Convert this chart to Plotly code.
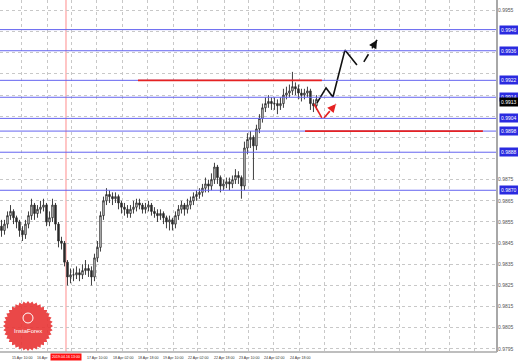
import math
import plotly.graph_objects as go

# ---------------- data ----------------
bar_index = list(range(106))
opens = [0.9853,0.9851,0.9854,0.9858,0.9860,0.9857,0.9855,0.9851,0.9849,0.9854,
         0.9858,0.9863,0.9859,0.9861,0.9862,0.9863,0.9855,0.9857,0.9863,0.9854,
         0.9846,0.9845,0.9836,0.9829,0.9830,0.9830,0.9831,0.9830,0.9832,0.9833,
         0.9832,0.9829,0.9838,0.9843,0.9858,0.9865,0.9868,0.9867,0.9866,0.9867,
         0.9864,0.9862,0.9861,0.9859,0.9861,0.9862,0.9864,0.9863,0.9861,0.9862,
         0.9863,0.9860,0.9859,0.9858,0.9859,0.9857,0.9855,0.9856,0.9854,0.9858,
         0.9861,0.9863,0.9861,0.9863,0.9865,0.9867,0.9868,0.9869,0.9871,0.9873,
         0.9872,0.9875,0.9881,0.9876,0.9872,0.9873,0.9874,0.9873,0.9875,0.9877,
         0.9876,0.9872,0.9890,0.9894,0.9895,0.9891,0.9899,0.9904,0.9909,0.9911,
         0.9912,0.9911,0.9911,0.9910,0.9911,0.9915,0.9916,0.9917,0.9919,0.9918,
         0.9916,0.9915,0.9916,0.9917,0.9911,0.9910]
highs = [0.9856,0.9856,0.9860,0.9863,0.9861,0.9858,0.9856,0.9853,0.9856,0.9860,
         0.9866,0.9864,0.9863,0.9865,0.9866,0.9864,0.9860,0.9866,0.9864,0.9855,
         0.9848,0.9846,0.9837,0.9833,0.9833,0.9834,0.9833,0.9835,0.9837,0.9835,
         0.9834,0.9840,0.9846,0.9860,0.9867,0.9871,0.9870,0.9869,0.9869,0.9868,
         0.9865,0.9864,0.9863,0.9863,0.9865,0.9866,0.9866,0.9864,0.9864,0.9865,
         0.9864,0.9862,0.9861,0.9861,0.9860,0.9858,0.9858,0.9857,0.9860,0.9863,
         0.9865,0.9864,0.9866,0.9867,0.9869,0.9870,0.9871,0.9873,0.9876,0.9875,
         0.9878,0.9883,0.9882,0.9877,0.9875,0.9876,0.9876,0.9877,0.9880,0.9879,
         0.9877,0.9893,0.9897,0.9898,0.9896,0.9901,0.9906,0.9911,0.9914,0.9915,
         0.9914,0.9914,0.9913,0.9914,0.9918,0.9919,0.9920,0.9926,0.9921,0.9920,
         0.9918,0.9918,0.9919,0.9918,0.9913,0.9915]
lows = [0.9848,0.9849,0.9852,0.9856,0.9854,0.9852,0.9848,0.9846,0.9847,0.9852,
        0.9856,0.9856,0.9857,0.9859,0.9860,0.9853,0.9853,0.9855,0.9851,0.9843,
        0.9842,0.9834,0.9825,0.9826,0.9827,0.9828,0.9827,0.9828,0.9830,0.9829,
        0.9825,0.9827,0.9836,0.9841,0.9856,0.9863,0.9864,0.9863,0.9864,0.9861,
        0.9859,0.9858,0.9857,0.9857,0.9859,0.9860,0.9861,0.9859,0.9859,0.9860,
        0.9858,0.9857,0.9855,0.9856,0.9854,0.9852,0.9851,0.9851,0.9852,0.9856,
        0.9859,0.9858,0.9859,0.9861,0.9863,0.9865,0.9866,0.9867,0.9869,0.9869,
        0.9870,0.9873,0.9873,0.9869,0.9870,0.9871,0.9870,0.9871,0.9873,0.9873,
        0.9866,0.9870,0.9887,0.9890,0.9875,0.9889,0.9897,0.9902,0.9907,0.9909,
        0.9908,0.9908,0.9906,0.9908,0.9909,0.9913,0.9914,0.9915,0.9915,0.9913,
        0.9912,0.9913,0.9914,0.9908,0.9907,0.9908]
closes = [0.9851,0.9854,0.9858,0.9860,0.9857,0.9855,0.9851,0.9849,0.9854,0.9858,
          0.9863,0.9859,0.9861,0.9862,0.9863,0.9855,0.9857,0.9863,0.9854,0.9846,
          0.9845,0.9836,0.9829,0.9830,0.9830,0.9831,0.9830,0.9832,0.9833,0.9832,
          0.9829,0.9838,0.9843,0.9858,0.9865,0.9868,0.9867,0.9866,0.9867,0.9864,
          0.9862,0.9861,0.9859,0.9861,0.9862,0.9864,0.9863,0.9861,0.9862,0.9863,
          0.9860,0.9859,0.9858,0.9859,0.9857,0.9855,0.9856,0.9854,0.9858,0.9861,
          0.9863,0.9861,0.9863,0.9865,0.9867,0.9868,0.9869,0.9871,0.9873,0.9872,
          0.9875,0.9881,0.9876,0.9872,0.9873,0.9874,0.9873,0.9875,0.9877,0.9876,
          0.9872,0.9890,0.9894,0.9895,0.9891,0.9899,0.9904,0.9909,0.9911,0.9912,
          0.9911,0.9911,0.9910,0.9911,0.9915,0.9916,0.9917,0.9919,0.9918,0.9916,
          0.9915,0.9916,0.9917,0.9911,0.9910,0.9913]

level_prices = [0.9946, 0.9936, 0.9922, 0.9914, 0.9904, 0.9898, 0.9888, 0.9870]
current_price = 0.9913

red_upper = {"x": [45.5, 106.8], "price": 0.9922}
red_lower = {"x": [101.2, 160.5], "price": 0.9898}

black_path_x = [105.2, 108.2, 110.5, 114.5, 118.5]
black_path_p = [0.99113, 0.99184, 0.99141, 0.99363, 0.99293]
black_dash_x = [120.8, 125.2]
black_dash_p = [0.99307, 0.99411]

red_path_x = [104.2, 106.8]
red_path_p = [0.99108, 0.99042]
red_dash_x = [107.5, 111.5]
red_dash_p = [0.99042, 0.99108]

vline_index = 21.5
vline_label = "2019.04.16 13:00"

time_tick_idx = [-1.5, 6.8, 13.6, 23.5, 31.8, 40.5, 48.8, 57.2, 65.5, 74.2, 82.5, 90.8, 99.5,
                 107.8, 116.2, 124.5, 132.8, 141.2, 149.5, 157.8]
time_tick_txt = ["12 Apr 18:00", "15 Apr 10:00", "16 Apr", "", "17 Apr 10:00",
                 "18 Apr 02:00", "18 Apr 18:00", "19 Apr 10:00", "22 Apr 02:00",
                 "22 Apr 18:00", "23 Apr 10:00", "24 Apr 02:00", "24 Apr 18:00",
                 "", "", "", "", "", "", ""]

price_ticks = [0.9795, 0.9805, 0.9815, 0.9825, 0.9835, 0.9845, 0.9855, 0.9865, 0.9875,
               0.9885, 0.9895, 0.9905, 0.9915, 0.9925, 0.9935, 0.9945, 0.9955]

# ---------------- figure ----------------
W, H = 518, 363
ML, MR, MT, MB = 0, 21, 0, 11
Y_RANGE = [0.97935, 0.9960]
X_RANGE = [-0.5, 165.2]
FONT = "Liberation Sans"

fig = go.Figure()

fig.add_trace(go.Candlestick(
    x=bar_index, open=opens, high=highs, low=lows, close=closes,
    increasing=dict(line=dict(color="#2a2a2a", width=0.9), fillcolor="#ffffff"),
    decreasing=dict(line=dict(color="#2a2a2a", width=0.9), fillcolor="#2a2a2a"),
    whiskerwidth=0, showlegend=False, hoverinfo="skip"))

shapes = []
shapes.append(dict(type="line", xref="x", yref="paper", x0=vline_index, x1=vline_index,
                   y0=0, y1=1, line=dict(color="#ff8c8c", width=1), layer="below"))
for p in level_prices:
    shapes.append(dict(type="line", xref="paper", yref="y", x0=0, x1=1, y0=p, y1=p,
                       line=dict(color="#6464f0", width=1)))
for seg in (red_upper, red_lower):
    shapes.append(dict(type="line", xref="x", yref="y", x0=seg["x"][0], x1=seg["x"][1],
                       y0=seg["price"], y1=seg["price"], line=dict(color="#e52222", width=1.6)))
shapes.append(dict(type="line", xref="paper", yref="paper", x0=1, x1=1, y0=0, y1=1,
                   line=dict(color="#a8a8a8", width=2)))
shapes.append(dict(type="line", xref="paper", yref="paper", x0=0, x1=1, y0=0, y1=0,
                   line=dict(color="#a8a8a8", width=1.5)))

# InstaForex badge (decoration)
pw, ph = W - ML - MR, H - MT - MB
cx, cy, r_out, r_in, teeth = 28, 326, 25, 22.5, 36
pts = []
for k in range(teeth * 2):
    a = math.pi * k / teeth
    rr = r_out if k % 2 == 0 else r_in
    pts.append(((cx + rr * math.cos(a)) / pw, 1 - (cy + rr * math.sin(a)) / ph))
path = "M " + " L ".join(f"{x:.5f},{y:.5f}" for x, y in pts) + " Z"
shapes.append(dict(type="path", xref="paper", yref="paper", path=path,
                   fillcolor="rgba(232,52,52,0.9)", line=dict(width=0)))
ic_r = 5
shapes.append(dict(type="circle", xref="paper", yref="paper",
                   x0=(cx - ic_r) / pw, x1=(cx + ic_r) / pw,
                   y0=1 - (318 + ic_r) / ph, y1=1 - (318 - ic_r) / ph,
                   line=dict(color="white", width=1)))
fig.update_layout(shapes=shapes)

fig.add_trace(go.Scatter(x=black_path_x, y=black_path_p, mode="lines",
                         line=dict(color="#111111", width=1.6), hoverinfo="skip"))
fig.add_trace(go.Scatter(x=black_dash_x, y=black_dash_p, mode="lines",
                         line=dict(color="#111111", width=1.6, dash="dash"), hoverinfo="skip"))
fig.add_trace(go.Scatter(x=red_path_x, y=red_path_p, mode="lines",
                         line=dict(color="#e52222", width=1.6), hoverinfo="skip"))
fig.add_trace(go.Scatter(x=red_dash_x, y=red_dash_p, mode="lines",
                         line=dict(color="#e52222", width=1.6, dash="dash"), hoverinfo="skip"))

ann = []
def arrowhead(xs, ps, color):
    ann.append(dict(x=xs[1], y=ps[1], ax=xs[0] + (xs[1] - xs[0]) * 0.55,
                    ay=ps[0] + (ps[1] - ps[0]) * 0.55, xref="x", yref="y", axref="x", ayref="y",
                    showarrow=True, arrowhead=2, arrowsize=1.2, arrowwidth=1.4,
                    arrowcolor=color, text=""))
arrowhead(black_dash_x, black_dash_p, "#111111")
arrowhead(red_dash_x, red_dash_p, "#e52222")

for xi, t in zip(time_tick_idx, time_tick_txt):
    if t:
        ann.append(dict(x=xi, xref="x", y=0, yref="paper", yanchor="top", xanchor="center",
                        yshift=-2, text=t, showarrow=False,
                        font=dict(family=FONT, size=3.6, color="#333333")))

for p in level_prices:
    ann.append(dict(x=1, xref="paper", y=p, yref="y", xanchor="left", yanchor="middle",
                    xshift=2, text=f"{p:.4f}", showarrow=False, bgcolor="#2a2ae0",
                    font=dict(family=FONT, size=5, color="white"), borderpad=1))
ann.append(dict(x=1, xref="paper", y=current_price, yref="y", xanchor="left", yanchor="middle",
                xshift=2, yshift=-3, text=f"{current_price:.4f}", showarrow=False, bgcolor="#000000",
                font=dict(family=FONT, size=5, color="white"), borderpad=1))
ann.append(dict(x=vline_index, xref="x", y=0, yref="paper", yanchor="top", xanchor="center",
                yshift=-1, text=vline_label, showarrow=False, bgcolor="#ff1010",
                font=dict(family=FONT, size=3.6, color="white"), borderpad=1))
ann.append(dict(x=cx / pw, xref="paper", y=1 - 331 / ph, yref="paper", yanchor="middle",
                xanchor="center", text="InstaForex", showarrow=False,
                font=dict(family=FONT, size=6, color="white")))
fig.update_layout(annotations=ann)

tick_text = [("" if any(abs(v - p) < 0.00036 for p in level_prices + [current_price]) else f"{v:.4f}")
             for v in price_ticks]

fig.update_layout(
    width=W, height=H, margin=dict(l=ML, r=MR, t=MT, b=MB, autoexpand=False),
    paper_bgcolor="white", plot_bgcolor="white",
    font=dict(family=FONT, size=5, color="#333333"),
    showlegend=False,
    xaxis=dict(range=X_RANGE, rangeslider=dict(visible=False), showline=False, zeroline=False,
               tickmode="array", tickvals=[v for v in time_tick_idx if v != 13.6] + [15.2],
               showticklabels=False, ticks="", automargin=False,
               showgrid=True, gridcolor="#c8c8c8", griddash="dot", gridwidth=1),
    yaxis=dict(range=Y_RANGE, side="right", tickmode="array", tickvals=price_ticks,
               ticktext=tick_text, zeroline=False, automargin=False,
               tickfont=dict(family=FONT, size=5, color="#555555"), ticks="",
               showgrid=True, gridcolor="#c8c8c8", griddash="dot", gridwidth=1),
)

fig.write_html("out.html")
